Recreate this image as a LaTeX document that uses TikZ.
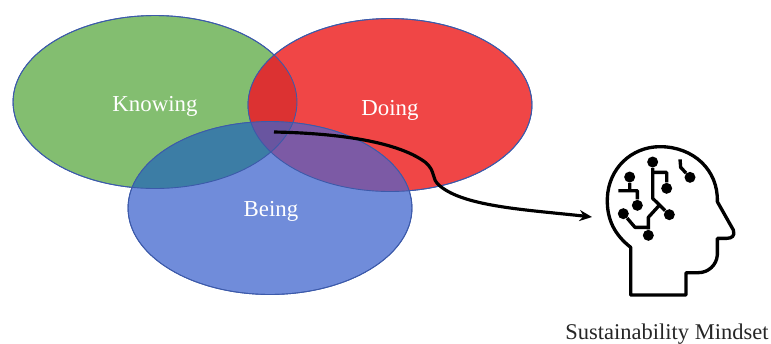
\documentclass[tikz,border=0pt]{standalone}
\usepackage{xcolor}
\usepackage{fontspec}
\setmainfont{Liberation Serif}
\usetikzlibrary{arrows.meta, shapes.geometric}
\definecolor{knowgreen}{RGB}{131, 190, 112}
\definecolor{dored}{RGB}{240, 70, 70}
\definecolor{beblue}{RGB}{112, 140, 218}
\definecolor{knowdo}{RGB}{220, 50, 50}
\definecolor{knowbe}{RGB}{60, 125, 165}
\definecolor{dobe}{RGB}{124, 90, 165}
\definecolor{allthree}{RGB}{105, 85, 160}
\definecolor{rimblue}{RGB}{60, 90, 170}
\tikzset{
  venn/.style={ellipse, draw=rimblue, line width=0.5pt, minimum width=5.68cm, minimum height=3.46cm, inner sep=0pt},
  vennlabel/.style={text=white, font=\fontsize{13}{15}\selectfont},
  headline/.style={line width=1.9pt, line join=round},
  dot/.style={circle, fill=black, inner sep=0pt, minimum size=0.22cm}
}
\begin{document}
\begin{tikzpicture}[x=0.02cm, y=-0.02cm]
\useasboundingbox (0,0) rectangle (771,343);
% Circles
\node[venn, fill=knowgreen] (knowing) at (155,102) {};
\node[venn, fill=dored] (doing) at (390,105) {};
\node[venn, fill=beblue] (being) at (270,208) {};

% Overlaps
\begin{scope}
\clip (390,105) ellipse [x radius=142, y radius=86.5];
\fill[dobe] (270,208) ellipse [x radius=142, y radius=86.5];
\end{scope}
\begin{scope}
\clip (155,102) ellipse [x radius=142, y radius=86.5];
\fill[knowdo] (390,105) ellipse [x radius=142, y radius=86.5];
\fill[knowbe] (270,208) ellipse [x radius=142, y radius=86.5];
\clip (390,105) ellipse [x radius=142, y radius=86.5];
\fill[allthree] (270,208) ellipse [x radius=142, y radius=86.5];
\end{scope}
\node[venn] at (155,102) {};
\node[venn] at (390,105) {};
\node[venn] at (270,208) {};

% Labels
\node[vennlabel] (knowtext) at (155,106) {Knowing};
\node[vennlabel] (dotext) at (390,110) {Doing};
\node[vennlabel] (betext) at (271,211) {Being};
\node[font=\fontsize{12.8}{14}\selectfont, text=black!85] (mindset) at (667,334) {Sustainability Mindset};

% Head
\begin{scope}[shift={(560,130)}, scale=1/3]
\draw[headline] (212,352) .. controls (165,315) and (140,270) .. (142,205)
  .. controls (145,115) and (215,50) .. (300,50)
  .. controls (400,50) and (475,120) .. (472,215)
  -- (520,300) .. controls (526,318) and (515,325) .. (500,325) -- (472,325) -- (472,375)
  .. controls (470,405) and (445,428) .. (415,428) -- (378,428) -- (378,495) -- (212,495) -- cycle;
\node[dot] (d1) at (278,96) {};
\node[dot] (d2) at (320,175) {};
\node[dot] (d3) at (390,142) {};
\node[dot] (d4) at (209,141) {};
\node[dot] (d5) at (232,226) {};
\node[dot] (d6) at (190,251) {};
\node[dot] (d7) at (265,316) {};
\node[dot] (d8) at (328,254) {};
\coordinate (c1) at (360,88);
\coordinate (c2) at (175,182);
\draw[headline] (d1) -- (278,205) -- (d8);
\draw[headline] (278,127) -- (320,127) -- (d2);
\draw[headline] (c1) -- (362,112) -- (d3);
\draw[headline] (d4) -- (209,182);
\draw[headline] (c2) -- (232,182) -- (d5);
\draw[headline] (d6) -- (225,292) -- (265,292);
\draw[headline] (d7) -- (265,262) -- (296,228);
\end{scope}

% Arrow
\coordinate (overlap) at (274,132);
\coordinate (headin) at (592,217);
\draw[line width=1.8pt, -{Stealth[length=2.5mm, width=2.2mm]}] (overlap)
  .. controls (330,133) and (395,140) .. (425,162)
  .. controls (437,172) and (430,178) .. (440,186)
  .. controls (465,207) and (530,210) .. (headin);
\end{tikzpicture}
\end{document}
